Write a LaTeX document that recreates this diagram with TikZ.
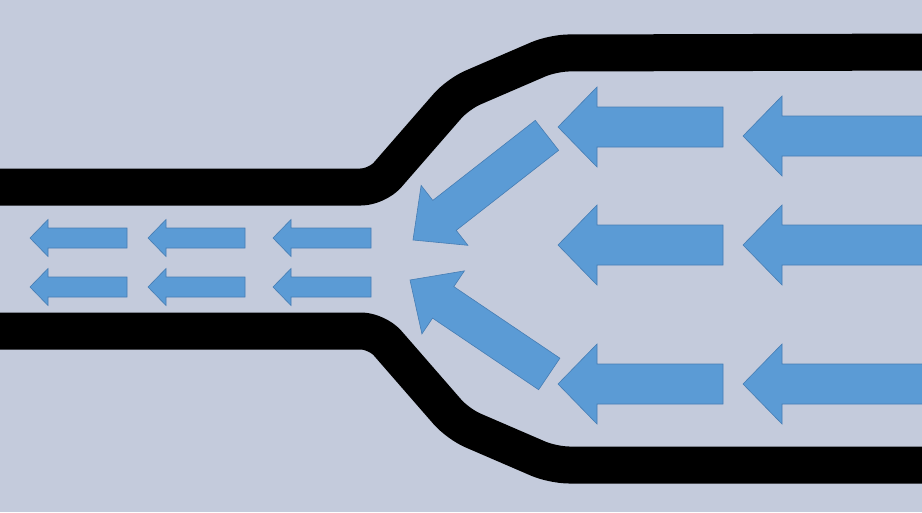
\documentclass[tikz,border=0pt]{standalone}
\definecolor{bg}{RGB}{196,203,220}
\definecolor{arrfill}{RGB}{91,155,213}
\definecolor{arrline}{RGB}{70,125,180}
\tikzset{
  wall/.style={line width=37pt, black, line join=round, rounded corners=16pt},
  flowarrow/.style={fill=arrfill, draw=arrline, line width=0.6pt, line join=miter}
}
\newcommand\flowarr[7]{%
  \draw[flowarrow, shift={(#1,#2)}, rotate=#3] (0,0) -- (#5,#6) -- (#5,#7) -- (#4,#7) -- (#4,-#7) -- (#5,-#7) -- (#5,-#6) -- cycle;}
\begin{document}
\begin{tikzpicture}[x=1pt,y=-1pt]
\fill[bg] (0,0) rectangle (922,512);
\useasboundingbox (0,0) rectangle (922,512);
\begin{scope}
\clip (0,0) rectangle (922,512);
% walls
\draw[wall] (-30,187) -- (377,187) -- (458,94) -- (553,53) -- (950,52);
\draw[wall] (-30,331) -- (377,331) -- (458,424) -- (553,465) -- (950,465);
% big straight arrows
\flowarr{558}{127}{0}{165}{39}{40}{20}
\flowarr{743}{136}{0}{200}{39}{40}{20}
\flowarr{558}{245}{0}{165}{39}{40}{20}
\flowarr{743}{245}{0}{200}{39}{40}{20}
\flowarr{558}{384}{0}{165}{39}{40}{20}
\flowarr{743}{384}{0}{200}{39}{40}{20}
% diagonal arrows
\flowarr{413}{240}{38}{170}{40}{38}{19}
\flowarr{410}{280}{-34}{168}{40}{38}{19}
% small arrows
\flowarr{30}{238}{0}{97}{18}{18.5}{10}
\flowarr{148}{238}{0}{97}{18}{18.5}{10}
\flowarr{273}{238}{0}{98}{18}{18.5}{10}
\flowarr{30}{287}{0}{97}{18}{18.5}{10}
\flowarr{148}{287}{0}{97}{18}{18.5}{10}
\flowarr{273}{287}{0}{98}{18}{18.5}{10}
\end{scope}
\end{tikzpicture}
\end{document}
